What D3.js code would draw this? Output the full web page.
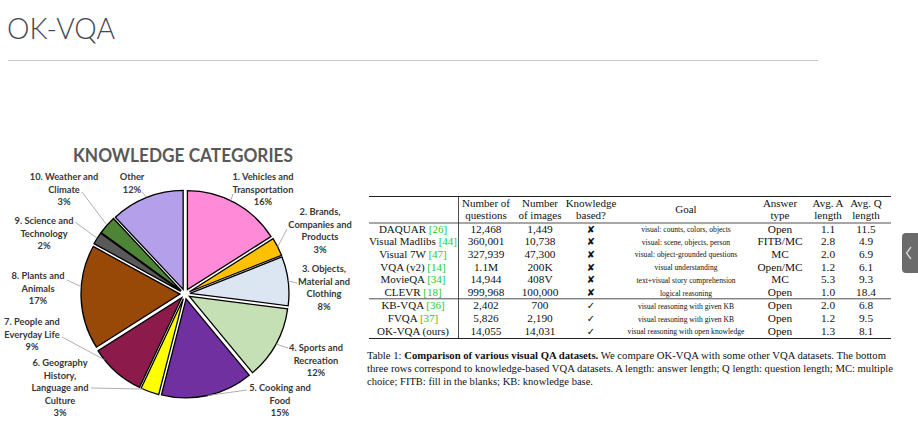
<!DOCTYPE html>
<html>
<head>
<meta charset="utf-8">
<script src="https://cdn.jsdelivr.net/npm/d3@7"></script>
<style>
  html, body { margin: 0; padding: 0; background: #fff; }
  svg { display: block; }
</style>
</head>
<body>
<svg id="chart" width="918" height="447"></svg>
<script>
// ---------------- DATA ----------------
const categoryLines = [
  ["1. Vehicles and", "Transportation"],
  ["2. Brands,", "Companies and", "Products"],
  ["3. Objects,", "Material and", "Clothing"],
  ["4. Sports and", "Recreation"],
  ["5. Cooking and", "Food"],
  ["6. Geography", "History,", "Language and", "Culture"],
  ["7. People and", "Everyday Life"],
  ["8. Plants and", "Animals"],
  ["9. Science and", "Technology"],
  ["10. Weather and", "Climate"],
  ["Other"]
];
const categoryShares = [16, 3, 8, 12, 15, 3, 9, 17, 2, 3, 12];

const datasetNames = ["DAQUAR", "Visual Madlibs", "Visual 7W", "VQA (v2)", "MovieQA", "CLEVR", "KB-VQA", "FVQA", "OK-VQA (ours)"];
const datasetRefs = ["26", "44", "47", "14", "34", "18", "36", "37", null];
const numQuestions = ["12,468", "360,001", "327,939", "1.1M", "14,944", "999,968", "2,402", "5,826", "14,055"];
const numImages = ["1,449", "10,738", "47,300", "200K", "408V", "100,000", "700", "2,190", "14,031"];
const knowledgeBased = [false, false, false, false, false, false, true, true, true];
const goals = ["visual: counts, colors, objects", "visual: scene, objects, person", "visual: object-grounded questions",
  "visual understanding", "text+visual story comprehension", "logical reasoning",
  "visual reasoning with given KB", "visual reasoning with given KB", "visual reasoning with open knowledge"];
const answerTypes = ["Open", "FITB/MC", "MC", "Open/MC", "MC", "Open", "Open", "Open", "Open"];
const avgALength = ["1.1", "2.8", "2.0", "1.2", "5.3", "1.0", "2.0", "1.2", "1.3"];
const avgQLength = ["11.5", "4.9", "6.9", "6.1", "9.3", "18.4", "6.8", "9.5", "8.1"];
const headerLines = [[], ["Number of", "questions"], ["Number", "of images"], ["Knowledge", "based?"], ["Goal"], ["Answer", "type"], ["Avg. A", "length"], ["Avg. Q", "length"]];

// ---------------- STYLE / LAYOUT ----------------
const sliceColors = ["#ff8ad8", "#ffc000", "#dce6f2", "#c5e0b4", "#7030a0", "#ffff00", "#8c1a4b", "#984807", "#595959", "#4e8435", "#b4a0ea"];
// label centre x, first-line baseline y; leader start x,y and fraction along slice arc
const labelLayout = [
  {x: 263, y: 180, lx: 233, ly: 194, t: 0.45},
  {x: 320, y: 215, lx: 287, ly: 229, t: 0.5},
  {x: 324, y: 272, lx: 297, ly: 283, t: 0.5},
  {x: 316, y: 351, lx: 288, ly: 348, t: 0.5},
  {x: 280, y: 391, lx: 247, ly: 390, t: 0.5},
  {x: 60,  y: 366, lx: 91,  ly: 388, t: 0.9},
  {x: 32,  y: 325, lx: 62,  ly: 337, t: 0.8},
  {x: 38,  y: 279, lx: 67,  ly: 280, t: 0.6},
  {x: 44,  y: 224, lx: 75,  ly: 222, t: 0.5},
  {x: 64,  y: 180, lx: 82,  ly: 192, t: 0.5},
  {x: 132, y: 180, lx: 142, ly: 192, t: 0.5}
];

const svg = d3.select("#chart");

// ---------------- PAGE HEADER ----------------
svg.append("text").attr("x", 7).attr("y", 39)
  .attr("font-family", "Lato, 'Open Sans', sans-serif").attr("font-weight", 300)
  .attr("font-size", 29).attr("fill", "#45454f").attr("textLength", 108).attr("lengthAdjust", "spacingAndGlyphs")
  .text("OK-VQA");
svg.append("line").attr("x1", 8).attr("x2", 818).attr("y1", 60.5).attr("y2", 60.5)
  .attr("stroke", "#c8c8c8").attr("stroke-width", 1);

// side tab
svg.append("rect").attr("x", 902).attr("y", 233).attr("width", 22).attr("height", 40).attr("rx", 4).attr("fill", "#6b6b6b");
svg.append("path").attr("d", d3.line()([[911, 247], [906.5, 253], [911, 259]]))
  .attr("fill", "none").attr("stroke", "#d8d8d8").attr("stroke-width", 1.3);

// ---------------- PIE ----------------
const cx = 185, cy = 294, R = 99, E = 5;
svg.append("text").attr("x", 183).attr("y", 162).attr("text-anchor", "middle")
  .attr("font-family", "Lato, 'Open Sans', sans-serif").attr("font-weight", 700)
  .attr("font-size", 18).attr("fill", "#595959").attr("textLength", 220).attr("lengthAdjust", "spacingAndGlyphs")
  .text("KNOWLEDGE CATEGORIES");

const pie = d3.pie().sort(null).value(d => d).startAngle(0).endAngle(2 * Math.PI);
const arcs = pie(categoryShares);
const arc = d3.arc().innerRadius(0).outerRadius(R);
const off = d => { const m = (d.startAngle + d.endAngle) / 2; return [E * Math.sin(m), -E * Math.cos(m)]; };

const pg = svg.append("g").attr("transform", `translate(${cx},${cy})`);
pg.selectAll("path.slice").data(arcs).join("path")
  .attr("class", "slice")
  .attr("transform", d => { const o = off(d); return `translate(${o[0]},${o[1]})`; })
  .attr("d", arc)
  .attr("fill", (d, i) => sliceColors[i])
  .attr("stroke", "#000").attr("stroke-width", 1.3).attr("stroke-linejoin", "miter");

// leader lines
arcs.forEach((d, i) => {
  const L = labelLayout[i];
  const a = d.startAngle + L.t * (d.endAngle - d.startAngle);
  const o = off(d);
  const px = cx + o[0] + R * Math.sin(a), py = cy + o[1] - R * Math.cos(a);
  svg.append("line").attr("x1", L.lx).attr("y1", L.ly).attr("x2", px).attr("y2", py)
    .attr("stroke", "#a6a6a6").attr("stroke-width", 0.9);
});

// labels
arcs.forEach((d, i) => {
  const L = labelLayout[i];
  const lines = categoryLines[i].concat([categoryShares[i] + "%"]);
  const t = svg.append("text").attr("text-anchor", "middle")
    .attr("font-family", "Lato, 'Open Sans', sans-serif").attr("font-weight", 700)
    .attr("font-size", 9.3).attr("fill", "#383838");
  lines.forEach((s, k) => t.append("tspan").attr("x", L.x).attr("y", L.y + k * 12.6).text(s));
});

// ---------------- TABLE ----------------
const serif = "'Liberation Serif', 'Times New Roman', serif";
const colKeys = ["name", "q", "img", "kb", "goal", "ans", "a", "qlen"];
const colX = d3.scaleOrdinal().domain(colKeys).range([413, 486, 540, 591, 686, 780, 828, 866]);
const rowY = d3.scaleLinear().domain([0, 8]).range([232.5, 334.1]);
const rowBase = i => rowY(i) + (i >= 6 ? 0.6 : 0);

const tbl = svg.append("g").attr("font-family", serif).attr("fill", "#111");
const tabLeft = 369, tabRight = 891;
[[196.5, 1], [223, 0.8], [298.8, 0.8], [338.5, 1]].forEach(([y, w]) =>
  tbl.append("line").attr("x1", tabLeft).attr("x2", tabRight).attr("y1", y).attr("y2", y)
    .attr("stroke", "#222").attr("stroke-width", w));
tbl.append("line").attr("x1", 458.5).attr("x2", 458.5).attr("y1", 196.5).attr("y2", 338.5)
  .attr("stroke", "#222").attr("stroke-width", 0.8);

// header
headerLines.forEach((lines, c) => {
  const x = colX(colKeys[c]);
  const y0 = lines.length === 1 ? 213 : 206.5;
  lines.forEach((s, k) => tbl.append("text").attr("x", x).attr("y", y0 + k * 12)
    .attr("text-anchor", "middle").attr("font-size", 11).text(s));
});

// body
datasetNames.forEach((name, i) => {
  const y = rowBase(i);
  const t = tbl.append("text").attr("x", colX("name")).attr("y", y).attr("text-anchor", "middle").attr("font-size", 11);
  t.append("tspan").text(name);
  if (datasetRefs[i]) t.append("tspan").attr("fill", "#22cc22").text(" [" + datasetRefs[i] + "]");
  tbl.append("text").attr("x", colX("q")).attr("y", y).attr("text-anchor", "middle").attr("font-size", 11.3).text(numQuestions[i]);
  tbl.append("text").attr("x", colX("img")).attr("y", y).attr("text-anchor", "middle").attr("font-size", 11.3).text(numImages[i]);
  tbl.append("text").attr("x", colX("kb")).attr("y", y).attr("text-anchor", "middle")
    .attr("font-family", "'DejaVu Sans', sans-serif").attr("font-size", 10)
    .text(knowledgeBased[i] ? "\u2713" : "\u2718");
  tbl.append("text").attr("x", colX("goal")).attr("y", y - 0.5).attr("text-anchor", "middle").attr("font-size", 7.6).text(goals[i]);
  tbl.append("text").attr("x", colX("ans")).attr("y", y).attr("text-anchor", "middle").attr("font-size", 11.3).text(answerTypes[i]);
  tbl.append("text").attr("x", colX("a")).attr("y", y).attr("text-anchor", "middle").attr("font-size", 11.3).text(avgALength[i]);
  tbl.append("text").attr("x", colX("qlen")).attr("y", y).attr("text-anchor", "middle").attr("font-size", 11.3).text(avgQLength[i]);
});

// caption
const cap = svg.append("g").attr("font-family", serif).attr("font-size", 10.5).attr("fill", "#111");
const c1 = cap.append("text").attr("x", 367).attr("y", 359).attr("textLength", 519).attr("lengthAdjust", "spacingAndGlyphs");
c1.append("tspan").text("Table 1: ");
c1.append("tspan").attr("font-weight", 700).text("Comparison of various visual QA datasets.");
c1.append("tspan").text(" We compare OK-VQA with some other VQA datasets. The bottom");
cap.append("text").attr("x", 367).attr("y", 372).attr("textLength", 526).attr("lengthAdjust", "spacingAndGlyphs")
  .text("three rows correspond to knowledge-based VQA datasets. A length: answer length; Q length: question length; MC: multiple");
cap.append("text").attr("x", 367).attr("y", 385).attr("textLength", 226).attr("lengthAdjust", "spacingAndGlyphs")
  .text("choice; FITB: fill in the blanks; KB: knowledge base.");
</script>
</body>
</html>
